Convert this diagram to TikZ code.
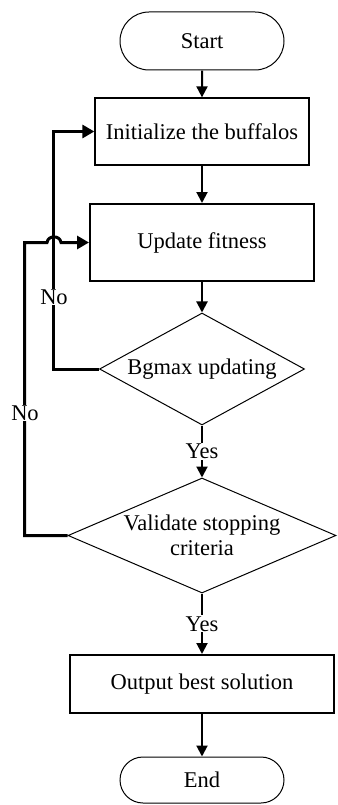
\documentclass[tikz,border=0pt]{standalone}
\usepackage{fontspec}
\setmainfont{Liberation Serif}
\usetikzlibrary{shapes.geometric,shapes.misc,arrows.meta}
\begin{document}
\begin{tikzpicture}[x=1pt,y=-1pt,
  every node/.style={font=\fontsize{22.5}{25}\selectfont},
  term/.style={draw,rounded rectangle,minimum width=164pt,line width=1pt,inner sep=0pt},
  proc/.style={draw,rectangle,inner sep=0pt},
  dec/.style={draw,diamond,line width=1pt,inner sep=0pt},
  txt/.style={align=center,inner sep=0pt},
  flow/.style={line width=2pt,-{Triangle[length=11pt,width=11pt]}},
  back/.style={line width=3pt,-{Triangle[length=12pt,width=13pt]}},
  lab/.style={fill=white,inner sep=1pt}]
\useasboundingbox (0,0) rectangle (337,805);

\node[term,minimum height=58pt] (start) at (202,41) {Start};
\node[proc,minimum width=214pt,minimum height=67pt,line width=1.3pt] (init) at (202,131.5) {Initialize the buffalos};
\node[proc,minimum width=224pt,minimum height=77pt,line width=2pt] (update) at (202,242.5) {Update fitness};
\node[dec,minimum width=205pt,minimum height=112pt] (d1) at (202,369) {};
\node[txt] (d1t) at (d1.center) {Bgmax updating};
\node[dec,minimum width=268pt,minimum height=115pt] (d2) at (202,535.5) {};
\node[txt] (d2t) at (d2.center) {Validate stopping\\criteria};
\node[proc,minimum width=264pt,minimum height=58pt,line width=2pt] (out) at (202,684) {Output best solution};
\node[term,minimum height=46pt] (end) at (202,780) {End};

\draw[flow] (start) -- (init);
\draw[flow] (init) -- (update);
\draw[flow] (update) -- (d1);
\draw[flow] (d1) -- node[lab] (yes1) {Yes} (d2);
\draw[flow] (d2) -- node[lab] (yes2) {Yes} (out);
\draw[flow] (out) -- (end);

\draw[back] (d1.west) -- ++(-46,0) |- (init.west);
\coordinate (j1) at (47,242.5);
\coordinate (j2) at (61,242.5);
\draw[back] (d2.west) -- ++(-43,0) |- (j1) .. controls (48,235) and (60,235) .. (j2) -- (update.west);

\node[lab] (no1) at (54,297) {No};
\node[lab] (no2) at (25,413) {No};
\end{tikzpicture}
\end{document}
